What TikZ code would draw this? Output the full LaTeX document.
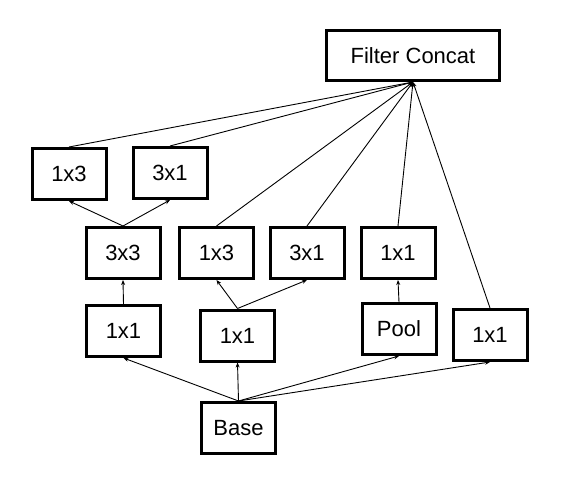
\documentclass[tikz,border=0pt]{standalone}
\usepackage{fontspec}
\setmainfont{Liberation Sans}
\usepackage{tikz}
\usetikzlibrary{arrows.meta}

\begin{document}
\begin{tikzpicture}[x=1pt,y=-1pt,>={Stealth[length=5pt,width=4pt]},
  blk/.style={draw,line width=3pt,minimum width=74pt,minimum height=51pt,inner sep=0pt,font=\fontsize{22}{26}\selectfont},
  lnk/.style={line width=0.9pt}]
\useasboundingbox(0,0)rectangle(574,495);
\node[blk,minimum width=173pt,minimum height=50pt](concat)at(413,55.5){Filter Concat};
\node[blk](top13)at(69,174){1x3};
\node[blk](top31)at(170,173){3x1};
\node[blk](conv33)at(123,253){3x3};
\node[blk](mid13)at(216.5,253){1x3};
\node[blk](mid31)at(307,253){3x1};
\node[blk](poolproj)at(398,253){1x1};
\node[blk](red33)at(123.5,331){1x1};
\node[blk](red3)at(237.5,335.5){1x1};
\node[blk](pool)at(399,329){Pool};
\node[blk](conv11)at(490,335){1x1};
\node[blk](base)at(238.5,428){Base};
% everything ends in the concat box
\foreach \n in {top13,top31,mid13,mid31,poolproj,conv11}
  \draw[lnk,->](\n.north)--(concat.south);
\draw[lnk,->](conv33.north)--(top13.south);
\draw[lnk,->](conv33.north)--(top31.south);
\draw[lnk,->](red33.north)--(conv33.south);
\draw[lnk,->](red3.north)--(mid13.south);
\draw[lnk,->](red3.north)--(mid31.south);
\draw[lnk,->](pool.north)--(poolproj.south);
\foreach \n in {red33,red3,pool,conv11}
  \draw[lnk,->](base.north)--(\n.south);
\end{tikzpicture}
\end{document}
